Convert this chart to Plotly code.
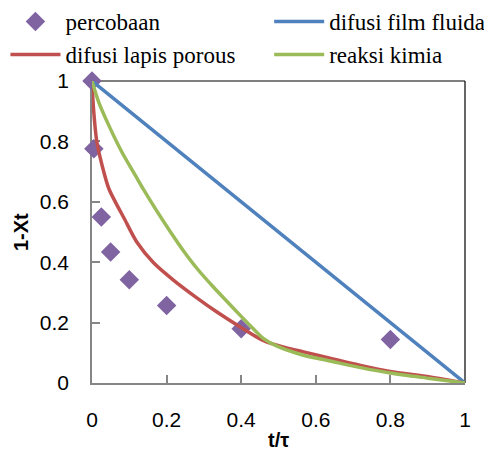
import plotly.graph_objects as go

# experimental data (percobaan)
t_exp = [0, 0.005, 0.025, 0.05, 0.1, 0.2, 0.4, 0.8]
y_exp = [1.0, 0.776, 0.55, 0.434, 0.342, 0.257, 0.18, 0.144]

# film diffusion (difusi film fluida)
t_film = [0, 0.5, 1.0]
y_film = [1.0, 0.5, 0.0]

# ash layer diffusion (difusi lapis porous)
t_ash = [0, 0.004, 0.013, 0.027, 0.045, 0.071, 0.085, 0.121, 0.165, 0.219,
         0.281, 0.335, 0.393, 0.46, 0.522, 0.567, 0.638, 0.72, 0.799, 0.906, 1.0]
y_ash = [1.0, 0.909, 0.798, 0.721, 0.644, 0.580, 0.548, 0.465, 0.398, 0.34,
         0.282, 0.235, 0.189, 0.140, 0.116, 0.103, 0.082, 0.058, 0.038, 0.020, 0.0]

# chemical reaction (reaksi kimia)
t_rx = [0, 0.018, 0.045, 0.080, 0.116, 0.138, 0.174, 0.21, 0.245, 0.281,
        0.326, 0.362, 0.398, 0.433, 0.46, 0.496, 0.567, 0.638, 0.72, 0.799, 0.906, 1.0]
y_rx = [1.0, 0.93, 0.853, 0.765, 0.688, 0.641, 0.569, 0.501, 0.438, 0.380,
        0.317, 0.270, 0.223, 0.179, 0.147, 0.122, 0.092, 0.073, 0.051, 0.033, 0.015, 0.0]

ticks = [0, 0.2, 0.4, 0.6, 0.8, 1]
tick_text = ["0", "0.2", "0.4", "0.6", "0.8", "1"]
x_title = "t/τ"
y_title = "1-Xt"

fig = go.Figure()
fig.add_trace(go.Scatter(x=t_exp, y=y_exp, mode="markers", name="percobaan",
                         marker=dict(symbol="diamond", size=15, color="#8064A2"),
                         cliponaxis=False, legend="legend"))
fig.add_trace(go.Scatter(x=t_film, y=y_film, mode="lines", name="difusi film fluida",
                         line=dict(color="#4F81BD", width=3.5), cliponaxis=False,
                         legend="legend2"))
fig.add_trace(go.Scatter(x=t_ash, y=y_ash, mode="lines", name="difusi lapis porous",
                         line=dict(color="#C0504D", width=3.5, shape="spline", smoothing=0.8),
                         cliponaxis=False, legend="legend"))
fig.add_trace(go.Scatter(x=t_rx, y=y_rx, mode="lines", name="reaksi kimia",
                         line=dict(color="#9BBB59", width=3.5, shape="spline", smoothing=0.8),
                         cliponaxis=False, legend="legend2"))

fig.update_layout(
    width=484, height=444,
    margin=dict(l=84, r=27, t=73, b=69, autoexpand=False),
    paper_bgcolor="white", plot_bgcolor="white",
    font=dict(family="Liberation Sans", color="black"),
    legend=dict(x=-0.232, y=1.268, xanchor="left", yanchor="top",
                font=dict(family="Liberation Serif", size=23, color="black"),
                itemwidth=50, tracegroupgap=0, bgcolor="rgba(0,0,0,0)"),
    legend2=dict(x=0.475, y=1.268, xanchor="left", yanchor="top",
                 font=dict(family="Liberation Serif", size=23, color="black"),
                 itemwidth=50, tracegroupgap=0, bgcolor="rgba(0,0,0,0)"),
    xaxis=dict(range=[0, 1], tickvals=ticks, ticktext=tick_text,
               showgrid=False, zeroline=False, showline=True,
               linecolor="#868686", linewidth=1.5, ticks="inside",
               tickcolor="#868686", ticklen=8, tickwidth=1.5,
               tickfont=dict(size=21, color="black"), ticklabelstandoff=17,
               layer="below traces", automargin=False),
    yaxis=dict(range=[0, 1], tickvals=ticks, ticktext=tick_text,
               showgrid=False, zeroline=False, showline=True,
               linecolor="#868686", linewidth=1.5, ticks="inside",
               tickcolor="#868686", ticklen=8, tickwidth=1.5,
               tickfont=dict(size=21, color="black"), ticklabelstandoff=17,
               layer="below traces", automargin=False),
    annotations=[
        dict(text=f"<b>{x_title}</b>", xref="paper", yref="paper", x=0.5, y=0,
             xanchor="center", yanchor="middle", yshift=-57, showarrow=False,
             font=dict(size=20, color="black")),
        dict(text=f"<b>{y_title}</b>", xref="paper", yref="paper", x=0, y=0.5,
             xanchor="center", yanchor="middle", xshift=-71, textangle=-90,
             showarrow=False, font=dict(size=20, color="black")),
    ],
    shapes=[
        dict(type="line", xref="paper", yref="paper", x0=0, x1=1, y0=1, y1=1,
             line=dict(color="black", width=1.2), layer="below"),
        dict(type="line", xref="paper", yref="paper", x0=1, x1=1, y0=0, y1=1,
             line=dict(color="black", width=1.2), layer="below"),
    ],
)

fig.write_html("out.html")
